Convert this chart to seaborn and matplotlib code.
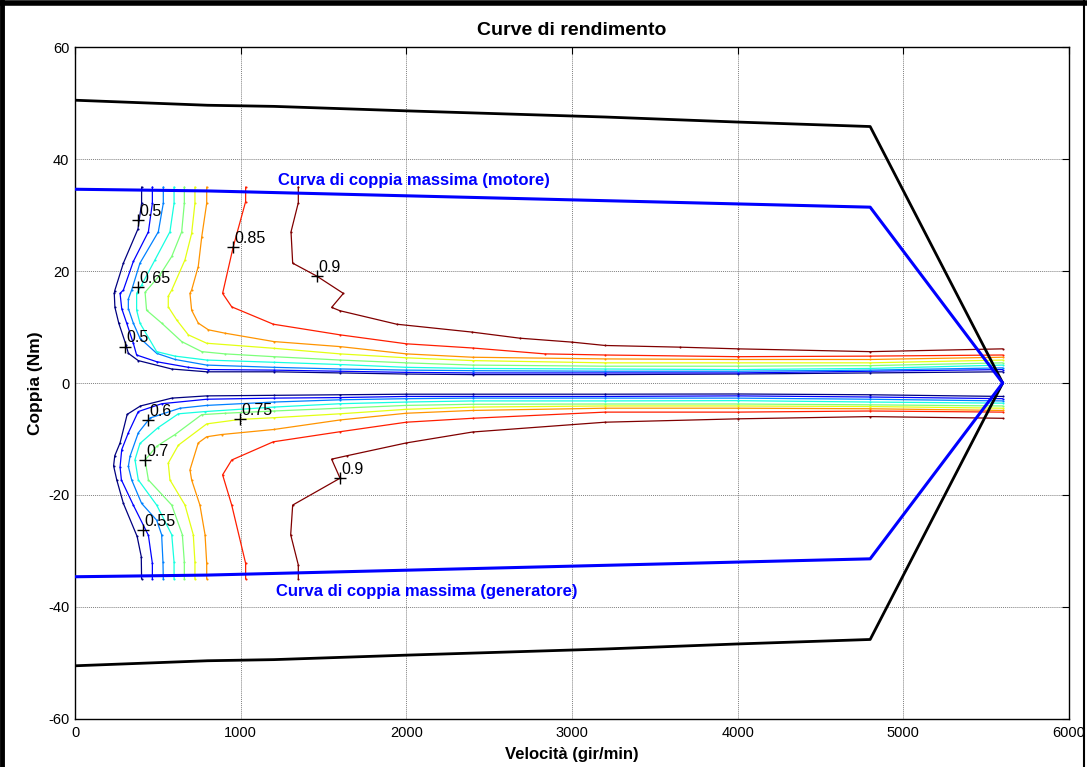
import numpy as np
import pandas as pd
import matplotlib
matplotlib.use("Agg")
import matplotlib.pyplot as plt
from matplotlib.lines import Line2D
import seaborn as sns

# ---- efficiency iso-lines (speed rpm, torque Nm), motor half ----
c050_up = [(402, 35.0), (402, 32.1), (380, 27.5), (292, 21.4), (240, 16.5), (237, 16.0), (241, 13.5),
           (264, 10.7), (308, 6.8), (322, 5.3), (382, 4.0), (584, 2.5), (795, 2.0), (1200, 2.0),
           (1600, 1.8), (2000, 1.6), (2400, 1.5), (3200, 1.5), (4000, 1.6), (4800, 1.8), (5600, 2.0)]
c055_up = [(467, 35.0), (467, 32.1), (443, 27.0), (352, 21.7), (292, 16.6), (272, 16.0), (282, 13.3),
           (312, 10.7), (352, 7.1), (372, 5.0), (493, 3.8), (684, 2.8), (805, 2.4), (1200, 2.3),
           (1600, 2.1), (2000, 1.9), (2400, 1.8), (3200, 1.8), (4000, 1.8), (4800, 2.1), (5600, 2.4)]
c060_up = [(533, 35.0), (533, 32.1), (503, 27.0), (392, 21.4), (342, 16.6), (322, 15.0), (322, 13.3),
           (352, 10.7), (392, 8.0), (493, 5.3), (604, 4.2), (795, 3.2), (1200, 2.8), (1600, 2.5),
           (2000, 2.3), (2400, 2.2), (3200, 2.1), (4000, 2.1), (4800, 2.3), (5600, 2.7)]
c065_up = [(598, 35.0), (598, 32.1), (573, 27.0), (483, 22.0), (402, 17.5), (372, 16.0), (372, 13.0),
           (392, 10.7), (493, 5.6), (604, 4.8), (795, 4.1), (1200, 3.7), (1600, 3.3), (2000, 2.8),
           (2400, 2.6), (3200, 2.5), (4000, 2.4), (4800, 2.6), (5600, 3.2)]
c070_up = [(660, 35.0), (660, 32.1), (644, 27.0), (584, 22.6), (513, 19.3), (423, 16.2), (432, 13.0),
           (523, 10.7), (644, 7.4), (765, 5.6), (905, 5.2), (1200, 4.7), (1600, 4.1), (2000, 3.6),
           (2400, 3.2), (3200, 3.0), (4000, 3.0), (4800, 3.1), (5600, 3.6)]
c075_up = [(724, 35.0), (724, 32.1), (704, 26.7), (664, 22.0), (584, 16.6), (563, 15.5), (563, 13.6),
           (614, 11.25), (684, 8.6), (795, 7.1), (1200, 6.2), (1600, 5.2), (2000, 4.5), (2400, 4.0),
           (3200, 3.6), (4000, 3.6), (4800, 3.6), (5600, 4.1)]
c080_up = [(795, 35.0), (795, 32.1), (765, 26.1), (744, 20.8), (704, 16.6), (694, 16.0), (704, 13.0),
           (744, 10.7), (805, 9.5), (905, 8.9), (1200, 7.4), (1600, 6.5), (2000, 5.2), (2400, 4.6),
           (3200, 4.3), (4000, 4.2), (4800, 4.2), (5600, 4.6)]
c085_up = [(1030, 35.0), (1030, 32.4), (955, 24.3), (891, 16.0), (946, 13.6), (1197, 10.5), (1600, 8.6),
           (2000, 7.0), (2400, 6.25), (2837, 5.2), (3200, 5.0), (4000, 4.7), (4800, 4.8), (5600, 5.0)]
c090_up = [(1348, 35.0), (1348, 32.2), (1304, 27.0), (1314, 21.4), (1459, 19.1), (1620, 16.0),
           (1549, 13.5), (1600, 12.9), (1942, 10.5), (2394, 9.1), (2686, 8.0), (3000, 7.3),
           (3200, 6.7), (3652, 6.4), (4000, 6.1), (4800, 5.6), (5600, 6.1)]

# ---- efficiency iso-lines, generator half ----
c050_lo = [(402, -35.0), (400, -31.0), (375, -27.4), (292, -21.5), (252, -17.3), (233, -14.8),
           (240, -13.0), (272, -10.7), (315, -5.6), (395, -4.1), (584, -2.7), (795, -2.3),
           (1200, -2.2), (1600, -2.1), (2000, -2.0), (2400, -2.0), (3200, -2.0), (4000, -1.96),
           (4800, -2.1), (5600, -2.4)]
c055_lo = [(467, -35.0), (467, -32.2), (443, -27.2), (352, -21.8), (280, -17.3), (272, -15.0),
           (282, -11.9), (322, -8.9), (382, -5.1), (523, -3.7), (795, -2.9), (1200, -2.7),
           (1600, -2.6), (2000, -2.4), (2400, -2.4), (3200, -2.4), (4000, -2.3), (4800, -2.5),
           (5600, -2.8)]
c060_lo = [(533, -35.0), (531, -32.0), (523, -27.1), (493, -24.5), (402, -21.5), (342, -17.3),
           (322, -14.9), (332, -13.1), (382, -8.9), (453, -6.25), (634, -4.5), (795, -4.0),
           (1200, -3.4), (1600, -3.0), (2000, -2.8), (2400, -2.7), (3200, -2.7), (4000, -2.7),
           (4800, -2.9), (5600, -3.2)]
c065_lo = [(598, -35.0), (598, -32.0), (584, -27.1), (493, -21.8), (382, -17.3), (362, -13.7),
           (392, -10.8), (500, -8.0), (624, -5.5), (785, -5.1), (1200, -4.3), (1600, -3.7),
           (2000, -3.4), (2400, -3.2), (3200, -3.2), (4000, -3.15), (4800, -3.4), (5600, -3.6)]
c070_lo = [(660, -35.0), (660, -32.0), (648, -27.1), (584, -21.8), (443, -17.3), (423, -13.75),
           (493, -11.3), (604, -9.2), (765, -5.65), (905, -5.4), (1200, -5.0), (1600, -4.5),
           (2000, -4.0), (2400, -3.8), (3200, -3.75), (4000, -3.75), (4800, -3.9), (5600, -4.1)]
c075_lo = [(724, -35.0), (724, -32.0), (714, -27.1), (664, -21.8), (573, -17.3), (563, -14.3),
           (624, -11.1), (795, -7.3), (996, -6.5), (1200, -6.2), (1600, -5.5), (2000, -4.7),
           (2400, -4.3), (3200, -4.1), (4000, -4.1), (4800, -4.2), (5600, -4.5)]
c080_lo = [(795, -35.0), (795, -32.2), (785, -27.1), (754, -21.8), (704, -17.3), (694, -15.5),
           (744, -10.7), (795, -9.6), (885, -9.2), (1200, -8.3), (1600, -6.6), (2000, -5.4),
           (2400, -4.9), (3200, -4.5), (4000, -4.5), (4800, -4.6), (5600, -4.9)]
c085_lo = [(1030, -35.0), (1030, -32.2), (946, -21.8), (891, -16.4), (946, -13.75), (1197, -10.5),
           (1600, -8.7), (2000, -7.0), (2400, -6.3), (3200, -5.2), (4000, -5.2), (4800, -5.0),
           (5600, -5.2)]
c090_lo = [(1348, -35.0), (1348, -32.5), (1302, -27.1), (1314, -21.8), (1600, -17.0), (1549, -13.6),
           (1640, -13.0), (2000, -10.7), (2400, -8.75), (3200, -7.0), (4000, -6.4), (4800, -6.0),
           (5600, -6.3)]

levels = [0.5, 0.55, 0.6, 0.65, 0.7, 0.75, 0.8, 0.85, 0.9]
upper_lines = [c050_up, c055_up, c060_up, c065_up, c070_up, c075_up, c080_up, c085_up, c090_up]
lower_lines = [c050_lo, c055_lo, c060_lo, c065_lo, c070_lo, c075_lo, c080_lo, c085_lo, c090_lo]

# ---- inline contour labels ----
label_text = ["0.5", "0.65", "0.5", "0.85", "0.9", "0.6", "0.7", "0.55", "0.75", "0.9"]
label_speed = [382, 382, 302, 955, 1459, 443, 423, 412, 996, 1600]
label_torque = [29.1, 17.2, 6.5, 24.3, 19.1, -6.6, -13.75, -26.25, -6.5, -17.0]

# ---- operating limits ----
env_speed = [0, 800, 1200, 2000, 3200, 4000, 4800, 5600]
env_torque = [50.5, 49.6, 49.4, 48.6, 47.5, 46.6, 45.8, 0.0]
tmax_speed = [0, 800, 4800, 5600]
tmax_torque = [34.6, 34.3, 31.4, 0.0]

rows = []
for lvl, up, lo in zip(levels, upper_lines, lower_lines):
    for half, pts in (("mot", up), ("gen", lo)):
        for k, (x, y) in enumerate(pts):
            rows.append({"speed": x, "torque": y, "level": lvl, "branch": f"{lvl}-{half}", "k": k})
iso = pd.DataFrame(rows)

sns.set_theme(style="white")
plt.rcParams["font.family"] = ["Liberation Sans", "DejaVu Sans"]
plt.rcParams["axes.unicode_minus"] = False
plt.rcParams["text.color"] = "black"
plt.rcParams["axes.labelcolor"] = "black"
plt.rcParams["xtick.color"] = "black"
plt.rcParams["ytick.color"] = "black"

fig = plt.figure(figsize=(10.87, 7.67), dpi=100)
ax = fig.add_axes([0.069, 0.0626, 0.9144, 0.8761])

jet = plt.cm.jet(np.linspace(0, 1, len(levels)))
palette = {lvl: jet[i] for i, lvl in enumerate(levels)}

sns.lineplot(data=iso, x="speed", y="torque", hue="level", units="branch", estimator=None,
             sort=False, palette=palette, legend=False, ax=ax, lw=0.9,
             marker=".", markersize=3, markeredgewidth=0)

# envelope (black) and maximum torque curves (blue), mirrored for generator mode
ax.plot(env_speed, env_torque, color="black", lw=2.0, zorder=4)
ax.plot(env_speed, [-t for t in env_torque], color="black", lw=2.0, zorder=4)
ax.plot(tmax_speed, tmax_torque, color="#0000ff", lw=2.2, zorder=4)
ax.plot(tmax_speed, [-t for t in tmax_torque], color="#0000ff", lw=2.2, zorder=4)

for txt, x, y in zip(label_text, label_speed, label_torque):
    ax.plot(x, y, marker="+", color="black", ms=8, mew=1.0, zorder=5)
    ax.annotate(txt, (x, y), xytext=(1, 3), textcoords="offset points",
                ha="left", va="baseline", fontsize=11.5, color="black", zorder=6)

ax.text(1225, 36.1, "Curva di coppia massima (motore)", color="#0000ff", fontsize=12,
        fontweight="bold", ha="left", va="center")
ax.text(1213, -37.3, "Curva di coppia massima (generatore)", color="#0000ff", fontsize=12,
        fontweight="bold", ha="left", va="center")

ax.set_xlim(0, 6000)
ax.set_ylim(-60, 60)
ax.set_xticks(np.arange(0, 6001, 1000))
ax.set_yticks(np.arange(-60, 61, 20))
ax.grid(True, color="#808080", lw=0.7, linestyle=(0, (1, 1)))
ax.tick_params(direction="in", length=5, width=0.8, top=True, right=True,
               labelsize=10.5, colors="black")
ax.tick_params(axis="x", pad=5)
ax.tick_params(axis="y", pad=4)
for s in ax.spines.values():
    s.set_color("black")
    s.set_linewidth(1.0)

ax.set_title("Curve di rendimento", fontsize=14, fontweight="bold", pad=9, color="black")
ax.set_xlabel("Velocità (gir/min)", fontsize=12, fontweight="bold", labelpad=5)
ax.set_ylabel("Coppia (Nm)", fontsize=12.5, fontweight="bold", labelpad=4)

# figure frame
fig.add_artist(Line2D([0.002, 0.002], [0, 1], transform=fig.transFigure, color="black", lw=3.5))
fig.add_artist(Line2D([0, 1], [0.996, 0.996], transform=fig.transFigure, color="black", lw=4.0))
fig.add_artist(Line2D([0.9975, 0.9975], [0, 1], transform=fig.transFigure, color="black", lw=1.5))

fig.savefig("out.png", dpi=100, facecolor="white")
